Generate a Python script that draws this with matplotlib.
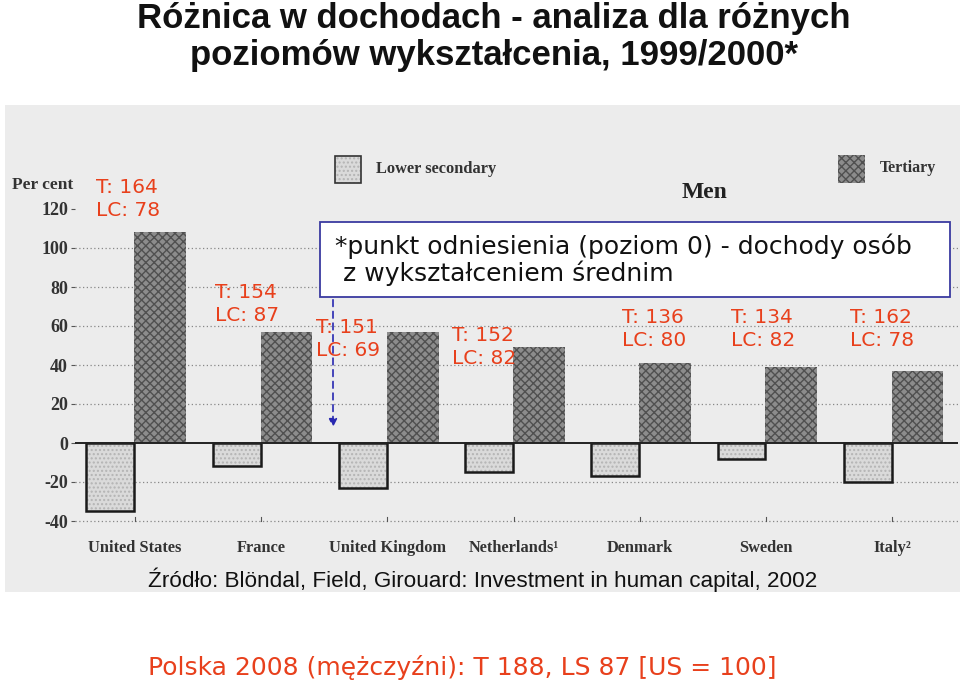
import numpy as np
import matplotlib.pyplot as plt
from matplotlib.patches import Rectangle, FancyArrowPatch

# data (per cent, relative to upper secondary)
countries = ['United States', 'France', 'United Kingdom', 'Netherlands¹',
             'Denmark', 'Sweden', 'Italy²']
lower_secondary = [-35, -12, -23, -15, -17, -8, -20]
tertiary = [108, 57, 57, 49, 41, 39, 37]

# red overlay labels: (T, LC) for each bar group
t_vals = [164, 154, 151, 152, 136, 134, 162]
lc_vals = [78, 87, 69, 82, 80, 82, 78]

W, H = 960, 689
fig = plt.figure(figsize=(W / 100, H / 100), dpi=100)
fig.patch.set_facecolor('white')


def fx(px):
    return px / W


def fy(py):
    return 1 - py / H


# grey scanned background
fig.add_artist(Rectangle((fx(5), fy(592)), fx(955), 487 / H, transform=fig.transFigure,
                         facecolor='#ececec', edgecolor='none', zorder=0))

ax = fig.add_axes([fx(75), fy(530.75), 883 / W, 351 / H])
ax.set_facecolor('none')
ax.set_xlim(-0.475, 6.52)
ax.set_ylim(-45, 135)
for s in ax.spines.values():
    s.set_visible(False)

x = np.arange(len(countries))
ax.bar(x + 0.2, tertiary, width=0.41, color='#8c8c8c', edgecolor='#505050',
       hatch='xxxx', linewidth=0, zorder=3)
ax.bar(x - 0.195, lower_secondary, width=0.38, color='#dadada', edgecolor='#b4b4b4',
       hatch='....', linewidth=0, zorder=3)
ax.bar(x - 0.195, lower_secondary, width=0.38, fill=False, edgecolor='#1a1a1a',
       linewidth=1.8, zorder=4)

for g in [100, 80, 60, 40, 20, -20, -40]:
    ax.axhline(g, color='#888888', linestyle=(0, (1, 2)), linewidth=0.9, zorder=1)
ax.axhline(0, color='#222222', linewidth=1.4, zorder=5)

yt = [120, 100, 80, 60, 40, 20, 0, -20, -40]
ax.set_yticks(yt)
ax.set_yticklabels([str(v) for v in yt], family='Liberation Serif', fontsize=13,
                   fontweight='bold', color='#333333')
ax.tick_params(axis='y', length=3, color='#555555', pad=2)
ax.set_xticks(x)
ax.set_xticklabels(countries, family='Liberation Serif', fontsize=11.8,
                   fontweight='bold', color='#333333')
ax.tick_params(axis='x', length=0, pad=7)
for xi in x:
    ax.plot([xi, xi], [-40, -38], color='#555555', lw=0.8, zorder=2)

fig.text(fx(12), fy(185), 'Per cent', family='Liberation Serif', fontsize=12.5,
         fontweight='bold', color='#333333', va='center')

# legend drawn like the original (split left/right)
fig.add_artist(Rectangle((fx(335), fy(183)), 26 / W, 27 / H, transform=fig.transFigure,
                         facecolor='#dadada', edgecolor='#b4b4b4', hatch='....',
                         linewidth=0, zorder=2))
fig.add_artist(Rectangle((fx(335), fy(183)), 26 / W, 27 / H, transform=fig.transFigure,
                         fill=False, edgecolor='#333333', linewidth=1.2, zorder=3))
fig.text(fx(376), fy(169), 'Lower secondary', family='Liberation Serif', fontsize=11.8,
         fontweight='bold', color='#333333', va='center')
fig.add_artist(Rectangle((fx(838), fy(183)), 27 / W, 28 / H, transform=fig.transFigure,
                         facecolor='#8c8c8c', edgecolor='#505050', hatch='xxxx',
                         linewidth=0, zorder=2))
fig.text(fx(880), fy(168), 'Tertiary', family='Liberation Serif', fontsize=11.5,
         fontweight='bold', color='#333333', va='center')
fig.text(fx(705), fy(192), 'Men', family='Liberation Serif', fontsize=17,
         fontweight='bold', color='#222222', ha='center', va='center')

# title
fig.text(fx(494), fy(37), 'Różnica w dochodach - analiza dla różnych\npoziomów wykształcenia, 1999/2000*',
         family='Liberation Sans', fontsize=25, fontweight='bold', ha='center',
         va='center', linespacing=1.12, color='#111111')

# red overlay labels
red = '#e8401c'
label_pos = [(96, 178), (215, 283), (316, 318), (452, 326), (622, 308), (731, 308), (850, 308)]
for (px, py), t, lc in zip(label_pos, t_vals, lc_vals):
    fig.text(fx(px), fy(py), f'T: {t}\nLC: {lc}', family='DejaVu Sans', fontsize=14.5,
             color=red, va='top', ha='left', linespacing=1.28, zorder=10)

# blue note box
fig.add_artist(Rectangle((fx(320), fy(297)), 630 / W, 75 / H, transform=fig.transFigure,
                         facecolor='white', edgecolor='#3a3aa0', linewidth=1.3, zorder=8))
fig.text(fx(335), fy(260), '*punkt odniesienia (poziom 0) - dochody osób\n z wykształceniem średnim',
         family='DejaVu Sans', fontsize=18, color='#111111', va='center', ha='left',
         linespacing=1.08, zorder=9)
fig.add_artist(FancyArrowPatch((fx(333), fy(297)), (fx(333), fy(430)),
                               transform=fig.transFigure, arrowstyle='-|>',
                               mutation_scale=12, color='#2828b0', linestyle=(0, (4, 3)),
                               linewidth=1.2, zorder=9))

fig.text(fx(148), fy(580), 'Źródło: Blöndal, Field, Girouard: Investment in human capital, 2002',
         family='Liberation Sans', fontsize=16.2, color='#111111', va='center', ha='left')
fig.text(fx(148), fy(668), 'Polska 2008 (mężczyźni): T 188, LS 87 [US = 100]',
         family='DejaVu Sans', fontsize=18, color=red, va='center', ha='left')

fig.savefig('out.png', dpi=100)
